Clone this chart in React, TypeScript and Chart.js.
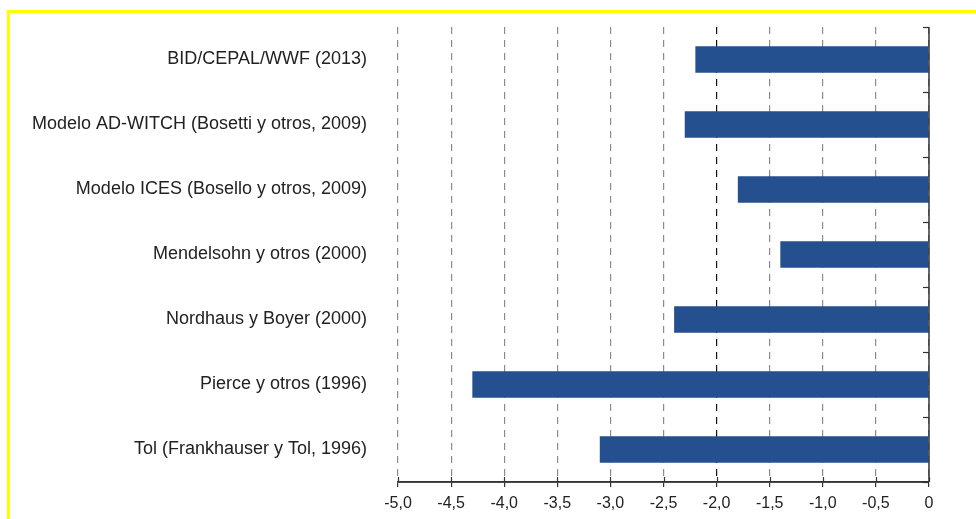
import React, { useEffect, useRef } from "react";
import { Chart, registerables } from "chart.js";

Chart.register(...registerables);

const categories: string[] = [
  "BID/CEPAL/WWF (2013)",
  "Modelo AD-WITCH (Bosetti y otros, 2009)",
  "Modelo ICES (Bosello y otros, 2009)",
  "Mendelsohn y otros (2000)",
  "Nordhaus y Boyer (2000)",
  "Pierce y otros (1996)",
  "Tol (Frankhauser y Tol, 1996)",
];

const values: number[] = [-2.2, -2.3, -1.8, -1.4, -2.4, -4.3, -3.1];

const xMin = -5;
const xMax = 0;
const xStep = 0.5;

const FONT = "'Liberation Sans', Arial, Helvetica, sans-serif";

const axisDecor = {
  id: "axisDecor",
  afterDraw(chart: any) {
    const { ctx, chartArea } = chart;
    const xs = chart.scales.x;
    const n = categories.length;
    ctx.save();
    ctx.strokeStyle = "#333";
    ctx.lineWidth = 1.5;
    ctx.setLineDash([]);
    // right axis line
    ctx.beginPath();
    ctx.moveTo(chartArea.right, chartArea.top);
    ctx.lineTo(chartArea.right, chartArea.bottom);
    ctx.stroke();
    // bottom axis line (solid)
    ctx.beginPath();
    ctx.moveTo(chartArea.left, chartArea.bottom);
    ctx.lineTo(chartArea.right, chartArea.bottom);
    ctx.stroke();
    // category boundary ticks on right axis (pointing inward)
    ctx.lineWidth = 1.2;
    const h = (chartArea.bottom - chartArea.top) / n;
    for (let i = 0; i <= n; i++) {
      const y = Math.round(chartArea.top + i * h) + 0.5;
      ctx.beginPath();
      ctx.moveTo(chartArea.right - 6, y);
      ctx.lineTo(chartArea.right, y);
      ctx.stroke();
    }
    // upper part of bottom axis ticks
    for (const t of xs.ticks) {
      const x = Math.round(xs.getPixelForValue(t.value)) + 0.5;
      ctx.beginPath();
      ctx.moveTo(x, chartArea.bottom - 5);
      ctx.lineTo(x, chartArea.bottom);
      ctx.stroke();
    }
    ctx.restore();
  },
};

export default function App() {
  const ref = useRef<HTMLCanvasElement | null>(null);

  useEffect(() => {
    if (!ref.current) return;
    const chart = new Chart(ref.current, {
      type: "bar",
      data: {
        labels: categories,
        datasets: [
          {
            data: values,
            backgroundColor: "#25508f",
            borderWidth: 0,
            categoryPercentage: 1,
            barPercentage: 0.41,
          },
        ],
      },
      options: {
        indexAxis: "y",
        responsive: false,
        animation: false,
        devicePixelRatio: 1,
        layout: { padding: { left: 0, right: 47, top: 27, bottom: 0 } },
        plugins: {
          legend: { display: false },
          tooltip: { enabled: false },
        },
        scales: {
          x: {
            type: "linear",
            min: xMin,
            max: xMax,
            ticks: {
              stepSize: xStep,
              color: "#222",
              font: { family: FONT, size: 16 },
              padding: 7,
              callback: (v: any) =>
                Number(v) === 0 ? "0" : Number(v).toFixed(1).replace(".", ","),
            },
            grid: {
              display: true,
              drawOnChartArea: true,
              color: (c: any) =>
                c.tick && Math.abs(c.tick.value + 2) < 1e-9 ? "#111" : "#8c8c8c",
              lineWidth: 1.2,
              tickLength: 5,
              tickColor: "#333",
              tickWidth: 1.2,
              tickBorderDash: [],
            },
            border: { display: true, color: "#333", width: 1.5, dash: [7, 6] },
            afterFit: (s: any) => {
              s.height = 37;
            },
          },
          y: {
            type: "category",
            ticks: {
              color: "#222",
              font: { family: FONT, size: 18 },
              padding: 31,
            },
            grid: { display: false, drawTicks: false, tickLength: 0 },
            border: { display: false },
            afterFit: (s: any) => {
              s.width = 398;
              s.paddingTop = 0;
              s.paddingBottom = 0;
            },
          },
        },
      },
      plugins: [axisDecor],
    } as any);
    return () => chart.destroy();
  }, []);

  return (
    <div
      style={{
        position: "fixed",
        left: 0,
        top: 0,
        width: 976,
        height: 519,
        background: "#fff",
        overflow: "hidden",
      }}
    >
      <div
        style={{
          position: "absolute",
          left: 7,
          top: 10,
          width: 1000,
          height: 600,
          borderTop: "3px solid #ffff00",
          borderLeft: "3px solid #ffff00",
        }}
      />
      <canvas
        ref={ref}
        width={976}
        height={519}
        style={{ position: "absolute", left: 0, top: 0 }}
      />
    </div>
  );
}
